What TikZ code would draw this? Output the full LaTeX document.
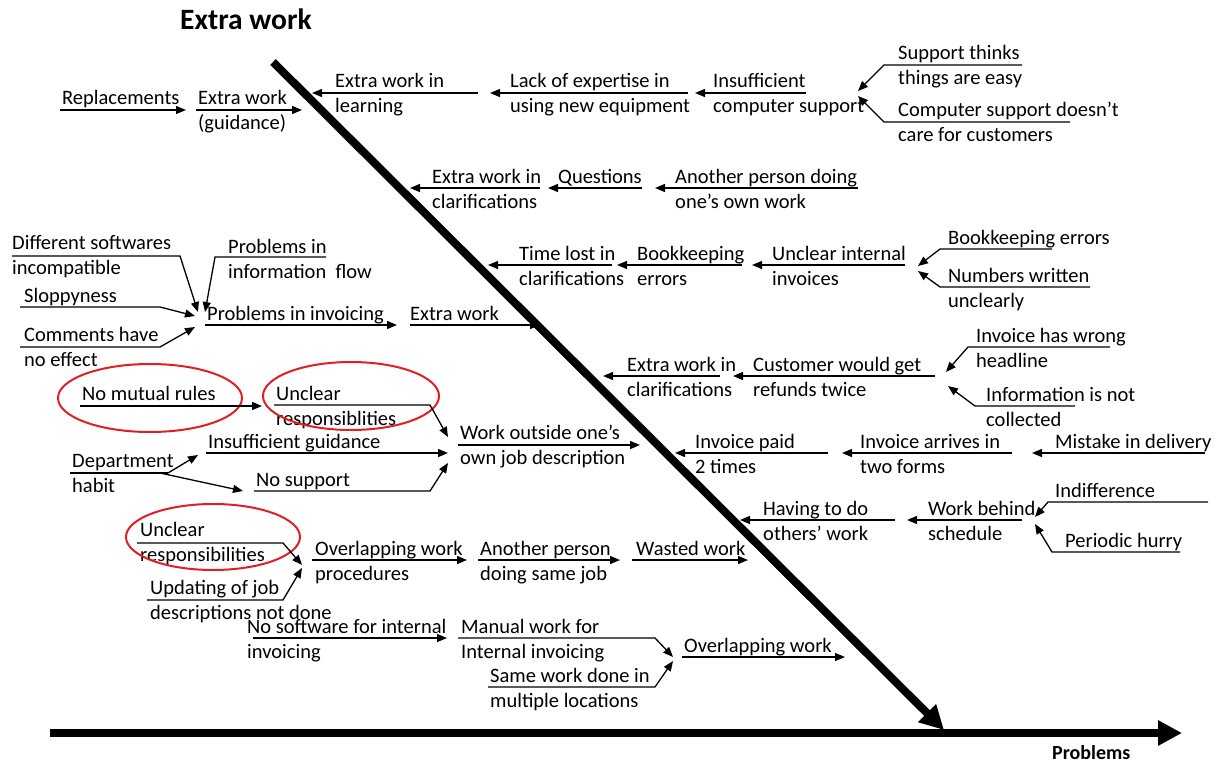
\documentclass[tikz,border=0pt]{standalone}
\usepackage{fontspec}
\setmainfont{Carlito}
\usetikzlibrary{arrows.meta}
\definecolor{redc}{RGB}{225,30,35}
\begin{document}
\begin{tikzpicture}[x=1pt,y=-1pt,
 lbl/.style={anchor=base west,inner sep=0pt,align=left,font=\fontsize{20.5}{25}\selectfont},
 two/.style={lbl,yshift=-25pt},
 arr/.style={line width=1.3pt,-{Triangle[length=10pt,width=8pt]}},
 big/.style={line width=8pt,-{Triangle[length=24pt,width=24pt]}},
 ring/.style={draw=redc,line width=2pt},
 ttl/.style={anchor=base west,inner sep=0pt,font=\fontsize{29.5}{34}\selectfont\bfseries},
 axl/.style={anchor=base west,inner sep=0pt,font=\fontsize{20}{24}\selectfont\bfseries}]
\useasboundingbox (0,0) rectangle (1227,765);

% title and main arrows
\node[ttl] (title) at (180,30) {Extra work};
\node[axl] (prob) at (1052,759) {Problems};
\coordinate (spineA) at (273,62);
\coordinate (spineB) at (944,730);
\coordinate (axA) at (50,733);
\coordinate (axB) at (1182,733);
\draw[big] (spineA) -- (spineB);
\draw[big] (axA) -- (axB);

% ---------- top left
\node[lbl] (repl) at (62,105) {Replacements};
\node[two] (ewg) at (198,105) {Extra work\\(guidance)};
\draw[arr] (60,110) -- (186,110);
\draw[arr] (196,110) -- (302,110);

% ---------- row 1
\node[two] (ewl) at (335,88) {Extra work in\\learning};
\node[two] (lack) at (510,88) {Lack of expertise in\\using new equipment};
\node[two] (insc) at (713,88) {Insufficient\\computer support};
\node[two] (supt) at (898,60) {Support thinks\\things are easy};
\node[two] (csup) at (898,117) {Computer support doesn’t\\care for customers};
\draw[arr] (478,93) -- (312,93);
\draw[arr] (688,93) -- (490,93);
\draw[arr] (806,93) -- (695,93);
\draw[arr] (1022,65) -- (884,65) -- (858,91);
\draw[arr] (1070,122) -- (884,122) -- (858,96);

% ---------- row 2
\node[two] (ewc1) at (432,183) {Extra work in\\clarifications};
\node[lbl] (ques) at (558,183) {Questions};
\node[two] (anoth) at (675,183) {Another person doing\\one’s own work};
\draw[arr] (540,188) -- (410,188);
\draw[arr] (642,188) -- (548,188);
\draw[arr] (858,188) -- (655,188);

% ---------- row 3 right
\node[two] (tlost) at (519,260) {Time lost in\\clarifications};
\node[two] (bke) at (637,260) {Bookkeeping\\errors};
\node[two] (uii) at (772,260) {Unclear internal\\invoices};
\node[lbl] (bke2) at (948,244) {Bookkeeping errors};
\node[two] (numw) at (948,282) {Numbers written\\unclearly};
\draw[arr] (612,265) -- (488,265);
\draw[arr] (742,265) -- (617,265);
\draw[arr] (905,265) -- (752,265);
\draw[arr] (1052,249) -- (940,249) -- (918,266);
\draw[arr] (1090,287) -- (940,287) -- (918,271);

% ---------- row 3 left
\node[two] (diff) at (12,249) {Different softwares\\incompatible};
\node[two] (pinf) at (228,253) {Problems in\\information\ \ flow};
\node[lbl] (slop) at (24,302) {Sloppyness};
\node[two] (comm) at (24,341) {Comments have\\no effect};
\node[lbl] (pinv) at (207,320) {Problems in invoicing};
\node[lbl] (ewx) at (410,320) {Extra work};
\draw[arr] (12,256) -- (180,256) -- (198,312);
\draw[arr] (326,257) -- (215,257) -- (205,312);
\draw[arr] (20,307) -- (160,307) -- (195,316);
\draw[arr] (20,347) -- (160,347) -- (195,327);
\draw[arr] (205,325) -- (397,325);
\draw[arr] (410,325) -- (540,325);

% ---------- row 4 right
\node[two] (ewc2) at (627,371) {Extra work in\\clarifications};
\node[two] (cust) at (753,371) {Customer would get\\refunds twice};
\node[two] (ihw) at (976,342) {Invoice has wrong\\headline};
\node[two] (infc) at (986,401) {Information is not\\collected};
\draw[arr] (720,376) -- (603,376);
\draw[arr] (935,376) -- (733,376);
\draw[arr] (1110,347) -- (968,347) -- (946,372);
\draw[arr] (1075,406) -- (975,406) -- (948,386);

% ---------- row 4 left
\node[lbl] (nmr) at (82,400) {No mutual rules};
\node[two] (ures) at (276,400) {Unclear\\responsiblities};
\node[lbl] (insg) at (208,448) {Insufficient guidance};
\node[two] (dept) at (72,467) {Department\\habit};
\node[lbl] (nosup) at (256,486) {No support};
\node[two] (wout) at (460,439) {Work outside one’s\\own job description};
\draw[ring] (150,398) ellipse [x radius=92pt, y radius=34pt];
\draw[ring] (351,396) ellipse [x radius=88pt, y radius=34pt];
\draw[arr] (80,406) -- (262,406);
\draw[arr] (274,405) -- (430,405) -- (448,437);
\draw[arr] (206,453) -- (448,453);
\draw[line width=1.3pt] (70,473) -- (168,473);
\draw[arr] (168,473) -- (198,455);
\draw[arr] (160,473) -- (243,491);
\draw[arr] (254,491) -- (430,491) -- (448,463);
\draw[arr] (458,445) -- (640,445);

% ---------- row 5 right
\node[two] (ipaid) at (695,448) {Invoice paid\\2 times};
\node[two] (iarr) at (860,448) {Invoice arrives in\\two forms};
\node[lbl] (mist) at (1055,448) {Mistake in delivery};
\draw[arr] (828,453) -- (675,453);
\draw[arr] (1012,453) -- (842,453);
\draw[arr] (1205,453) -- (1032,453);

% ---------- row 6 right
\node[two] (hav) at (763,515) {Having to do\\others’ work};
\node[two] (wbs) at (928,515) {Work behind\\schedule};
\node[lbl] (indif) at (1055,497) {Indifference};
\node[lbl] (phur) at (1065,547) {Periodic hurry};
\draw[arr] (895,520) -- (740,520);
\draw[arr] (1022,520) -- (907,520);
\draw[arr] (1208,502) -- (1048,502) -- (1035,517);
\draw[arr] (1180,552) -- (1052,552) -- (1035,524);

% ---------- row 6 left
\node[two] (ures2) at (140,536) {Unclear\\responsibilities};
\node[two] (upd) at (150,594) {Updating of job\\descriptions not done};
\node[two] (ovp) at (315,555) {Overlapping work\\procedures};
\node[two] (anp) at (480,555) {Another person\\doing same job};
\node[lbl] (wast) at (636,555) {Wasted work};
\draw[ring] (213,537) ellipse [x radius=87pt, y radius=33pt];
\draw[arr] (137,543) -- (283,543) -- (302,565);
\draw[arr] (147,600) -- (283,600) -- (302,568);
\draw[arr] (312,560) -- (467,560);
\draw[arr] (478,560) -- (620,560);
\draw[arr] (632,560) -- (748,560);

% ---------- row 7
\node[two] (nosw) at (247,633) {No software for internal\\invoicing};
\node[two] (manw) at (461,633) {Manual work for\\Internal invoicing};
\node[two] (same) at (490,682) {Same work done in\\multiple locations};
\node[lbl] (ovw) at (684,652) {Overlapping work};
\draw[arr] (253,638) -- (447,638);
\draw[arr] (458,638) -- (655,638) -- (673,657);
\draw[arr] (488,687) -- (655,687) -- (673,661);
\draw[arr] (682,657) -- (845,657);
\end{tikzpicture}
\end{document}
